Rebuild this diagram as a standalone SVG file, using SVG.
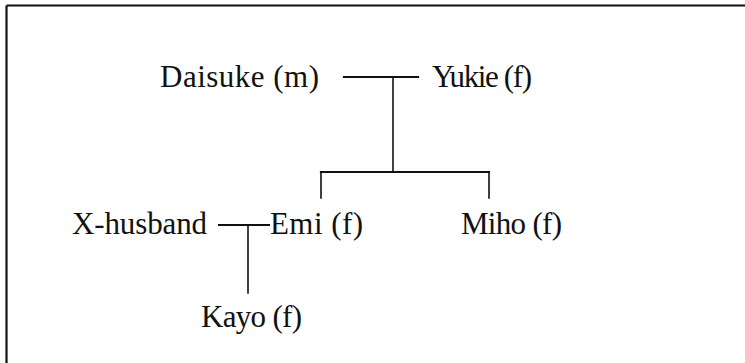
<svg xmlns="http://www.w3.org/2000/svg" width="745" height="363" viewBox="0 0 745 363">
<style>
.t{font-family:"Liberation Serif","Times New Roman",serif;font-size:31px;fill:#111}
.c{stroke:#111;fill:none;stroke-linecap:square}
.h{stroke-width:2.2}
.v{stroke-width:1.6}
</style>
<rect width="745" height="363" fill="#fff"/>
<path d="M6.5 5.5H745M6.5 5.5V363" stroke="#111" stroke-width="2.2" fill="none"/>
<g id="daisuke"><text class="t" x="160" y="87" textLength="159">Daisuke (m)</text></g>
<g id="yukie"><text class="t" x="432" y="87" textLength="100">Yukie (f)</text></g>
<g id="xhusband"><text class="t" x="72" y="234" textLength="135">X-husband</text></g>
<g id="emi"><text class="t" x="270" y="234" textLength="93">Emi (f)</text></g>
<g id="miho"><text class="t" x="461" y="234" textLength="101">Miho (f)</text></g>
<g id="kayo"><text class="t" x="201" y="327" textLength="101">Kayo (f)</text></g>
<g id="connectors">
<path class="c h" d="M344 77H418"/>
<path class="c v" d="M393 77V172"/>
<path class="c h" d="M321 172H489"/>
<path class="c v" d="M321 172V198M489 172V198"/>
<path class="c h" d="M219 225H269"/>
<path class="c v" d="M248 225V293"/>
</g>
</svg>
